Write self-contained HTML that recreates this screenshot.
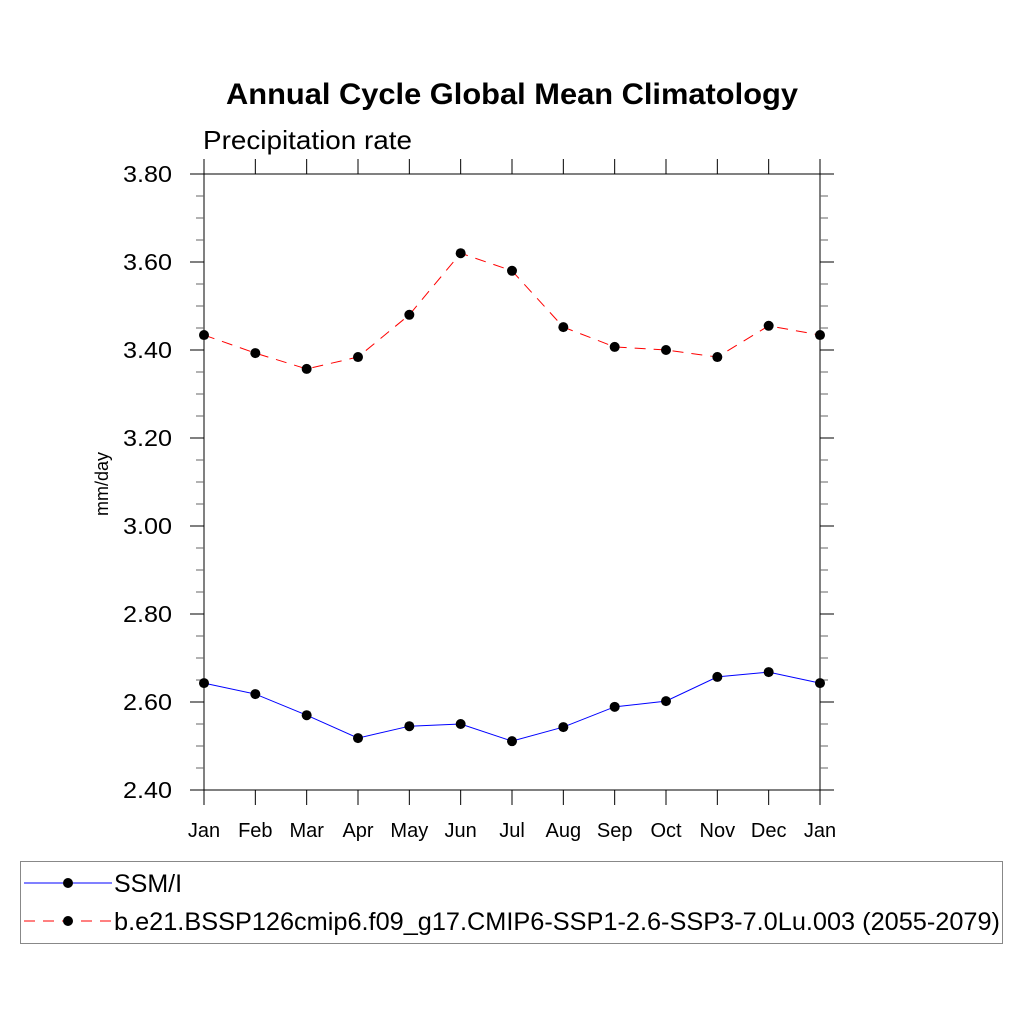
<!DOCTYPE html>
<html><head><meta charset="utf-8"><style>body{margin:0;background:#fff}svg{display:block}text{font-family:"Liberation Sans",sans-serif}</style></head>
<body>
<svg id="chart" width="1024" height="1024" xmlns="http://www.w3.org/2000/svg">
<rect width="1024" height="1024" fill="#fff"/>
<text x="226" y="104" textLength="572" lengthAdjust="spacingAndGlyphs" font-size="30" font-weight="bold">Annual Cycle Global Mean Climatology</text>
<text x="203" y="149" textLength="209" lengthAdjust="spacingAndGlyphs" font-size="26">Precipitation rate</text>
<text transform="translate(108,484) rotate(-90)" text-anchor="middle" font-size="18">mm/day</text>
<g id="axes"></g>
<g id="series"></g>
<g>
<rect x="20.5" y="861.5" width="982" height="82" fill="none" stroke="#888" stroke-width="1"/>
<line x1="24" y1="883" x2="112" y2="883" stroke="#00f" stroke-width="1"/>
<circle cx="68" cy="883" r="5" fill="#000"/>
<text x="114" y="892" font-size="25">SSM/I</text>
<line x1="24" y1="921" x2="112" y2="921" stroke="#f00" stroke-width="1" stroke-dasharray="11,8"/>
<circle cx="68" cy="921" r="5" fill="#000"/>
<text x="114" y="930" textLength="886" lengthAdjust="spacingAndGlyphs" font-size="25">b.e21.BSSP126cmip6.f09_g17.CMIP6-SSP1-2.6-SSP3-7.0Lu.003 (2055-2079)</text>
</g>
</svg>
<script>
const months = ["Jan","Feb","Mar","Apr","May","Jun","Jul","Aug","Sep","Oct","Nov","Dec","Jan"];
const ssmi = [2.643,2.618,2.570,2.518,2.545,2.550,2.511,2.543,2.589,2.602,2.657,2.668,2.643];
const model = [3.434,3.393,3.357,3.384,3.480,3.620,3.580,3.452,3.407,3.400,3.384,3.455,3.434];
const yTicks = ["2.40","2.60","2.80","3.00","3.20","3.40","3.60","3.80"];
const NS="http://www.w3.org/2000/svg";
const X0=204,X1=820,Y0=790,Y1=174,ymin=2.4,ymax=3.8;
const xs=i=>X0+(X1-X0)*i/(months.length-1);
const ys=v=>Y0-(v-ymin)/(ymax-ymin)*(Y0-Y1);
function mk(t,a,p){const e=document.createElementNS(NS,t);for(const k in a)e.setAttribute(k,a[k]);p.appendChild(e);return e;}
const ax=document.getElementById('axes'),se=document.getElementById('series');
const frame=mk('rect',{x:X0,y:Y1,width:X1-X0,height:Y0-Y1,fill:'none',stroke:'#000','stroke-width':1},ax);


months.forEach((m,i)=>{const x=xs(i);
mk('line',{x1:x,y1:Y0,x2:x,y2:Y0+15,stroke:'#000'},ax);
mk('line',{x1:x,y1:Y1,x2:x,y2:Y1-15,stroke:'#000'},ax);
const t=mk('text',{x:x,y:837,'text-anchor':'middle','font-size':20},ax);t.textContent=m;

});
for(let v=ymin;v<=ymax+1e-9;v+=0.05){const y=ys(v);const major=Math.abs((v-ymin)/0.2-Math.round((v-ymin)/0.2))<1e-6;const L=major?14:8;
mk('line',{x1:X0-L,y1:y,x2:X0,y2:y,stroke:major?'#000':'#666'},ax);
mk('line',{x1:X1,y1:y,x2:X1+L,y2:y,stroke:major?'#000':'#666'},ax);}
yTicks.forEach(s=>{const t=mk('text',{x:172,y:ys(parseFloat(s))+8,'text-anchor':'end','font-size':23,textLength:49,lengthAdjust:'spacingAndGlyphs'},ax);t.textContent=s;

});
function series(vals,color,dash,name){
const pl=mk('polyline',{points:vals.map((v,i)=>xs(i)+','+ys(v)).join(' '),fill:'none',stroke:color,'stroke-width':1,'stroke-dasharray':dash},se);


vals.forEach((v,i)=>{const c=mk('circle',{cx:xs(i),cy:ys(v),r:5,fill:'#000'},se);

});}
series(model,'#f00','11,8','model');
series(ssmi,'#00f','none','ssmi');
</script>
</body></html>
